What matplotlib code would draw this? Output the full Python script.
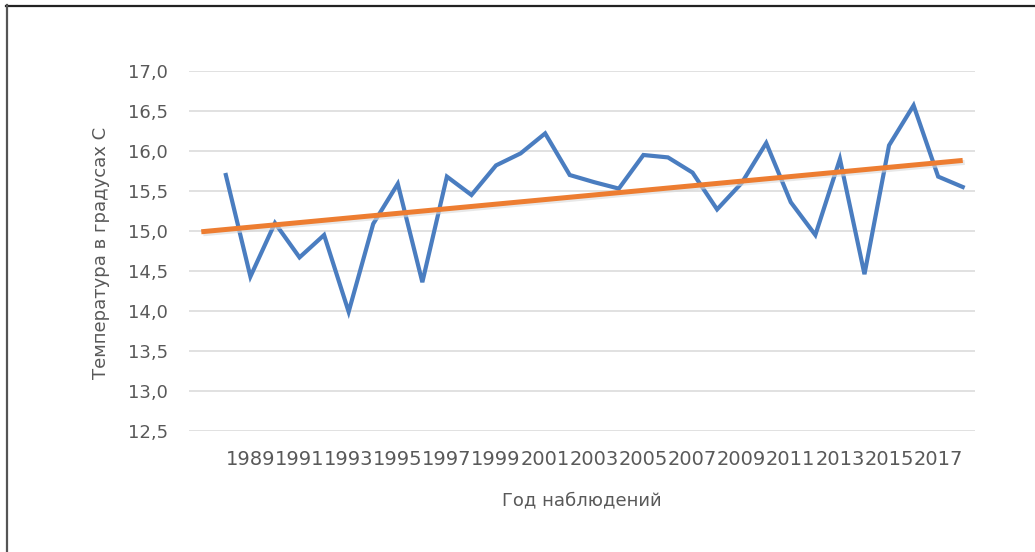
import numpy as np
import matplotlib
matplotlib.use("Agg")
import matplotlib.pyplot as plt
from matplotlib.lines import Line2D

years = list(range(1988, 2019))
temps = [15.70, 14.43, 15.10, 14.67, 14.95, 13.99, 15.09, 15.59, 14.36, 15.68,
         15.45, 15.82, 15.97, 16.22, 15.70, 15.61, 15.53, 15.95, 15.92, 15.73,
         15.27, 15.60, 16.10, 15.36, 14.95, 15.90, 14.46, 16.07, 16.57, 15.68,
         15.55]
tick_years = list(range(1989, 2018, 2))
y_ticks = [12.5, 13.0, 13.5, 14.0, 14.5, 15.0, 15.5, 16.0, 16.5, 17.0]

text_col = "#595959"
blue = "#4a7dc0"
orange = "#ed7d31"

fig = plt.figure(figsize=(10.35, 5.52), dpi=100)
ax = fig.add_axes([189/1035, 1 - 431/552, (975 - 189)/1035, 360/552])

# category axis: first category is empty, data starts at index 1
n_cat = len(years) + 1
idx = np.arange(1, n_cat)
ax.plot(idx, temps, color=blue, lw=3.0, solid_joinstyle="miter", zorder=3)

# linear trend (Excel style, spans all categories)
k, b = np.polyfit(idx, temps, 1)
xt = np.array([0, n_cat - 1])
ax.plot(xt + 0.08, k*xt + b - 0.025, color="#d9d9d9", lw=3.6, alpha=0.6,
        solid_capstyle="butt", zorder=3.5)
ax.plot(xt, k*xt + b, color=orange, lw=3.6, solid_capstyle="butt", zorder=4)

ax.set_xlim(-0.5, n_cat - 0.5)
ax.set_ylim(12.5, 17.0)
ax.set_yticks(y_ticks)
ax.set_yticklabels([f"{v:.1f}".replace(".", ",") for v in y_ticks])
ax.set_xticks([years.index(y) + 1 for y in tick_years])
ax.set_xticklabels([str(y) for y in tick_years])

ax.grid(axis="y", color="#d9d9d9", lw=1.1, zorder=0)
for s in ax.spines.values():
    s.set_visible(False)
ax.tick_params(axis="both", length=0, colors=text_col, labelsize=13)
ax.tick_params(axis="x", labelsize=14, pad=14)
ax.tick_params(axis="y", pad=15)

fig.text(582/1035, 1 - 500/552, "Год наблюдений", ha="center", va="center",
         color=text_col, fontsize=13)
fig.text(101.5/1035, 1 - 253/552, "Температура в градусах С", ha="center",
         va="center", rotation=90, color=text_col, fontsize=13)

# frame lines at top and left of the image
fig.add_artist(Line2D([6/1035, 1], [1 - 5.5/552, 1 - 5.5/552], color="#222222",
                      lw=1.6, transform=fig.transFigure))
fig.add_artist(Line2D([7/1035, 7/1035], [0, 1 - 5/552], color="#555555",
                      lw=1.6, transform=fig.transFigure))

fig.savefig("out.png", dpi=100, facecolor="white")
